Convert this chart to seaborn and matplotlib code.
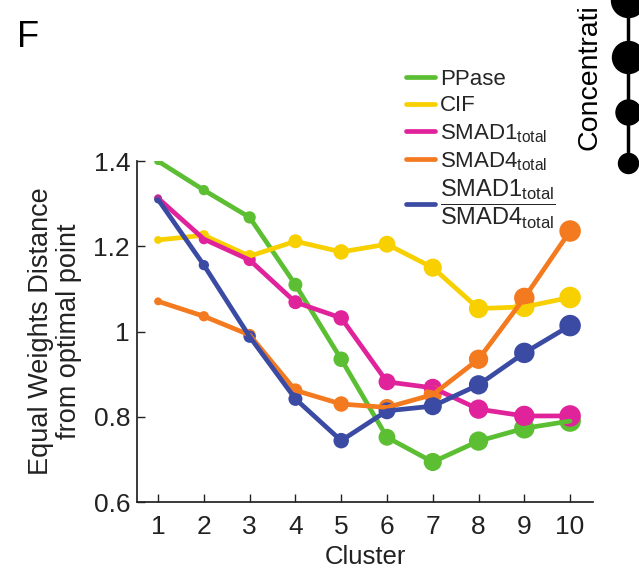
import numpy as np
import pandas as pd
import seaborn as sns
import matplotlib.pyplot as plt
from matplotlib.lines import Line2D

clusters = [1, 2, 3, 4, 5, 6, 7, 8, 9, 10]
ppase = [1.40, 1.332, 1.268, 1.110, 0.935, 0.752, 0.694, 0.743, 0.773, 0.790]
cif = [1.215, 1.226, 1.177, 1.212, 1.187, 1.205, 1.150, 1.054, 1.058, 1.080]
smad1 = [1.313, 1.217, 1.168, 1.069, 1.032, 0.882, 0.868, 0.818, 0.802, 0.802]
smad4 = [1.071, 1.036, 0.992, 0.862, 0.830, 0.822, 0.852, 0.935, 1.079, 1.236]
ratio = [1.310, 1.156, 0.988, 0.842, 0.744, 0.814, 0.825, 0.875, 0.950, 1.014]

names = ['PPase', 'CIF', 'SMAD1', 'SMAD4', 'ratio']
labels = ['PPase', 'CIF',
          r'SMAD1$_{\mathrm{total}}$',
          r'SMAD4$_{\mathrm{total}}$',
          r'$\dfrac{\mathrm{SMAD1}_{\mathrm{total}}}{\mathrm{SMAD4}_{\mathrm{total}}}$']
colors = ['#5cbf33', '#f8d000', '#e0229b', '#f47a20', '#3b4ba3']

sns.set_theme(style='ticks')
plt.rcParams['font.family'] = ['Liberation Sans', 'DejaVu Sans']
plt.rcParams['mathtext.fontset'] = 'custom'
plt.rcParams['mathtext.rm'] = 'Liberation Sans'
plt.rcParams['mathtext.it'] = 'Liberation Sans:italic'

df = pd.DataFrame({'cluster': clusters * 5,
                   'series': np.repeat(names, 10),
                   'value': ppase + cif + smad1 + smad4 + ratio})

fig = plt.figure(figsize=(6.39, 5.71), dpi=100)
ax = fig.add_axes([0.2144, 0.1208, 0.7136, 0.597])

for name, col in zip(names, colors):
    sub = df[df['series'] == name]
    sns.lineplot(data=sub, x='cluster', y='value', color=col, lw=3.4, ax=ax, legend=False)
    sns.scatterplot(data=sub, x='cluster', y='value', size='cluster', sizes=(32, 240),
                    color=col, edgecolor='none', ax=ax, legend=False)

ax.set_xlim(0.54, 10.5)
ax.set_ylim(0.6, 1.4)
ax.set_xticks(clusters)
ax.set_yticks([0.6, 0.8, 1.0, 1.2, 1.4])
ax.set_yticklabels(['0.6', '0.8', '1', '1.2', '1.4'])
ax.tick_params(direction='in', labelsize=19, length=6, width=1, colors='#222222')
ax.tick_params(axis='x', pad=9)
ax.tick_params(axis='y', pad=5)
sns.despine(ax=ax)
for s in ['left', 'bottom']:
    ax.spines[s].set_color('#222222')
ax.set_xlabel('Cluster', fontsize=18.5, color='#222222', labelpad=5)
ax.set_ylabel('Equal Weights Distance\nfrom optimal point', fontsize=19.5, color='#222222',
              labelpad=8, linespacing=1.1)

handles = [Line2D([0], [0], color=c, lw=3.4) for c in colors]
leg = fig.legend(handles, labels, loc='upper left', bbox_to_anchor=(0.622, 0.895),
                 frameon=False, fontsize=16, handlelength=1.3, handletextpad=0.2,
                 labelspacing=0.25, borderaxespad=0)
leg.get_texts()[4].set_fontsize(17)

fig.text(0.026, 0.935, 'F', fontsize=26, color='black', va='center')

# partial neighbouring panel on the right edge
fig.text(0.923, 1 - 150 / 571, 'Concentrati', rotation=90, fontsize=20.5, color='black',
         ha='center', va='bottom')
fig.add_artist(Line2D([628 / 639, 628 / 639], [1.0, 1 - 163 / 571], color='black', lw=2.5,
                      transform=fig.transFigure))
for yy, dia in zip([0, 57, 112, 163], [34, 32, 25, 20]):
    fig.add_artist(Line2D([628 / 639], [1 - yy / 571], marker='o', ms=dia * 0.72,
                          color='black', transform=fig.transFigure))

fig.savefig('out.png', dpi=100)
